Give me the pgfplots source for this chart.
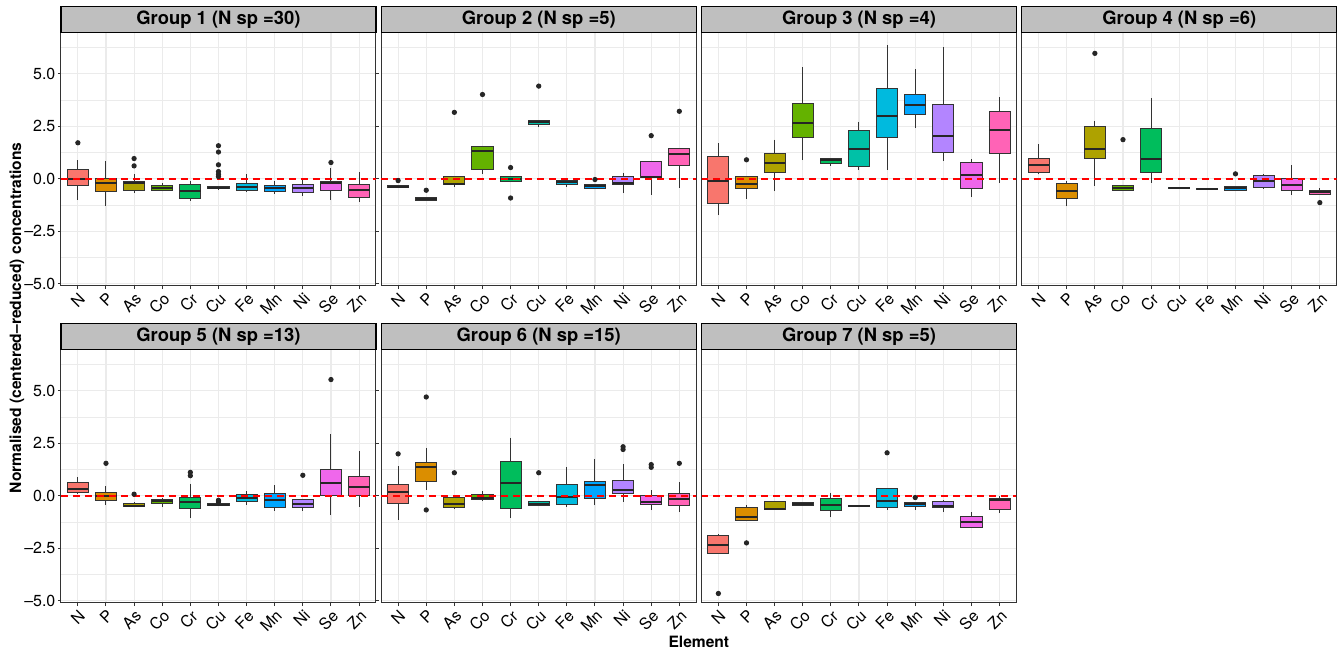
\documentclass[border=0pt]{standalone}
\usepackage{pgfplots}
\pgfplotsset{compat=1.18}
\usepgfplotslibrary{groupplots,statistics}
\usetikzlibrary{calc}
\usepackage{fontspec}
\setmainfont{TeX Gyre Heros}

% ggplot hue palette, 11 levels
\definecolor{cN}{HTML}{F8766D}
\definecolor{cP}{HTML}{DB8E00}
\definecolor{cAs}{HTML}{AEA200}
\definecolor{cCo}{HTML}{64B200}
\definecolor{cCr}{HTML}{00BD5C}
\definecolor{cCu}{HTML}{00C1A7}
\definecolor{cFe}{HTML}{00BADE}
\definecolor{cMn}{HTML}{00A6FF}
\definecolor{cNi}{HTML}{B385FF}
\definecolor{cSe}{HTML}{EF67EB}
\definecolor{cZn}{HTML}{FF63B6}

\pgfplotsset{
  bxs/.style={
    draw=black!80, line width=0.5pt,
    mark=*, mark size=1.05pt, mark options={draw=black!85, fill=black!85},
    boxplot/draw direction=y,
    boxplot/box extend=0.75,
    boxplot/whisker extend=0,
    boxplot/every median/.style={line width=1pt, draw=black!85},
  },
}
% \bx{pos}{fill}{lower whisker}{q1}{median}{q3}{upper whisker}{outliers}
\newcommand{\bx}[8]{%
  \addplot[bxs, fill=#2, boxplot prepared={draw position=#1,
    lower whisker=#3, lower quartile=#4, median=#5,
    upper quartile=#6, upper whisker=#7}] coordinates {#8};}
\newcommand{\zeroline}{%
  \addplot[red, line width=1pt, dash pattern=on 3.5pt off 2.5pt] coordinates {(0.4,0) (11.6,0)};}

\begin{document}
\begin{tikzpicture}
\begin{groupplot}[
  group style={group size=4 by 2, horizontal sep=2.65pt, vertical sep=32pt},
  scale only axis, width=157.5pt, height=126.5pt,
  xmin=0.4, xmax=11.6, ymin=-5.1, ymax=6.95,
  xtick={1,...,11}, xticklabels={N,P,As,Co,Cr,Cu,Fe,Mn,Ni,Se,Zn},
  ytick={-5,-2.5,0,2.5,5}, yticklabels={--5.0,--2.5,0.0,2.5,5.0},
  minor ytick={-3.75,-1.25,1.25,3.75,6.25},
  xmajorgrids, ymajorgrids, yminorgrids,
  major grid style={color=black!8, line width=0.55pt},
  minor grid style={color=black!8, line width=0.3pt},
  tick align=outside, major tick length=1.6pt, minor tick length=0pt,
  tick style={black!80, line width=0.5pt},
  axis line style={black!80, line width=0.5pt},
  ticklabel style={font=\fontsize{8}{9}\selectfont, black},
  xticklabel style={rotate=45, anchor=north east, inner sep=0.8pt},
  yticklabel style={inner sep=1pt},
  every axis title/.style={at={(0.5,1)}, anchor=south, draw=black, line width=0.6pt,
    fill=black!25, minimum width=157.5pt, minimum height=13pt, inner sep=0pt,
    font=\bfseries\fontsize{9.2}{11}\selectfont},
]
\nextgroupplot[title={Group 1 (N sp =30)}]
\bx{1}{cN}{-1.0}{-0.33}{0.0}{0.43}{0.88}{(0,1.72)}
\bx{2}{cP}{-1.28}{-0.6}{-0.2}{0.0}{0.85}{}
\bx{3}{cAs}{-0.68}{-0.57}{-0.21}{-0.13}{0.24}{(0,0.97) (0,0.62)}
\bx{4}{cCo}{-0.6}{-0.53}{-0.43}{-0.33}{-0.2}{}
\bx{5}{cCr}{-1.05}{-0.91}{-0.6}{-0.29}{-0.08}{}
\bx{6}{cCu}{-0.5}{-0.48}{-0.42}{-0.38}{-0.33}{(0,1.58) (0,1.28) (0,0.67) (0,0.35) (0,0.22) (0,0.11)}
\bx{7}{cFe}{-0.64}{-0.56}{-0.4}{-0.2}{0.21}{}
\bx{8}{cMn}{-0.72}{-0.6}{-0.45}{-0.33}{-0.08}{}
\bx{9}{cNi}{-0.83}{-0.65}{-0.45}{-0.27}{-0.03}{}
\bx{10}{cSe}{-1.0}{-0.57}{-0.21}{-0.1}{0.51}{(0,0.78)}
\bx{11}{cZn}{-1.12}{-0.88}{-0.51}{-0.29}{0.33}{}
\zeroline

\nextgroupplot[title={Group 2 (N sp =5)}, yticklabels={}, ytick style={draw=none}]
\bx{1}{cN}{-0.42}{-0.40}{-0.37}{-0.33}{-0.33}{(0,-0.08)}
\bx{2}{cP}{-1.04}{-1.04}{-0.97}{-0.88}{-0.88}{(0,-0.54)}
\bx{3}{cAs}{-0.37}{-0.29}{-0.22}{0.11}{0.11}{(0,3.17)}
\bx{4}{cCo}{0.24}{0.43}{1.34}{1.52}{1.52}{(0,4.02)}
\bx{5}{cCr}{-0.11}{-0.11}{0.0}{0.11}{0.11}{(0,0.54) (0,-0.91)}
\bx{6}{cCu}{2.47}{2.58}{2.7}{2.78}{2.78}{(0,4.42)}
\bx{7}{cFe}{-0.37}{-0.27}{-0.16}{-0.08}{-0.08}{}
\bx{8}{cMn}{-0.46}{-0.46}{-0.35}{-0.29}{-0.29}{(0,-0.03)}
\bx{9}{cNi}{-0.69}{-0.26}{-0.18}{0.13}{0.3}{}
\bx{10}{cSe}{-0.75}{0.08}{0.11}{0.85}{0.85}{(0,2.06)}
\bx{11}{cZn}{-0.43}{0.65}{1.2}{1.45}{1.45}{(0,3.22)}
\zeroline

\nextgroupplot[title={Group 3 (N sp =4)}, yticklabels={}, ytick style={draw=none}]
\bx{1}{cN}{-1.74}{-1.15}{-0.08}{1.05}{1.69}{}
\bx{2}{cP}{-0.96}{-0.48}{-0.22}{0.1}{0.1}{(0,0.91)}
\bx{3}{cAs}{-0.59}{0.29}{0.78}{1.2}{1.87}{}
\bx{4}{cCo}{0.89}{1.96}{2.68}{3.59}{5.31}{}
\bx{5}{cCr}{0.62}{0.72}{0.88}{0.97}{0.97}{}
\bx{6}{cCu}{0.43}{0.59}{1.42}{2.31}{2.73}{}
\bx{7}{cFe}{0.43}{1.96}{3.01}{4.31}{6.36}{}
\bx{8}{cMn}{2.42}{3.09}{3.52}{4.04}{5.22}{}
\bx{9}{cNi}{0.85}{1.26}{2.04}{3.54}{6.28}{}
\bx{10}{cSe}{-0.86}{-0.48}{0.19}{0.77}{0.94}{}
\bx{11}{cZn}{-0.19}{1.2}{2.31}{3.21}{3.91}{}
\zeroline

\nextgroupplot[title={Group 4 (N sp =6)}, yticklabels={}, ytick style={draw=none}]
\bx{1}{cN}{0.21}{0.32}{0.65}{0.99}{1.64}{}
\bx{2}{cP}{-1.31}{-0.91}{-0.57}{-0.22}{-0.11}{}
\bx{3}{cAs}{-0.35}{0.97}{1.44}{2.5}{2.78}{(0,5.98)}
\bx{4}{cCo}{-0.53}{-0.53}{-0.45}{-0.33}{-0.33}{(0,1.87)}
\bx{5}{cCr}{-0.19}{0.3}{0.94}{2.38}{3.83}{}
\bx{6}{cCu}{-0.45}{-0.45}{-0.43}{-0.41}{-0.41}{}
\bx{7}{cFe}{-0.51}{-0.51}{-0.49}{-0.47}{-0.47}{}
\bx{8}{cMn}{-0.53}{-0.53}{-0.45}{-0.37}{-0.37}{(0,0.24)}
\bx{9}{cNi}{-0.49}{-0.43}{-0.08}{0.16}{0.24}{}
\bx{10}{cSe}{-0.77}{-0.57}{-0.27}{0.0}{0.64}{}
\bx{11}{cZn}{-0.73}{-0.73}{-0.62}{-0.53}{-0.43}{(0,-1.13)}
\zeroline

\nextgroupplot[title={Group 5 (N sp =13)}]
\bx{1}{cN}{0.11}{0.18}{0.35}{0.66}{0.91}{}
\bx{2}{cP}{-0.42}{-0.22}{0.0}{0.18}{0.45}{(0,1.55)}
\bx{3}{cAs}{-0.53}{-0.53}{-0.46}{-0.38}{-0.29}{(0,0.08)}
\bx{4}{cCo}{-0.54}{-0.35}{-0.26}{-0.18}{-0.08}{}
\bx{5}{cCr}{-1.06}{-0.58}{-0.27}{-0.06}{0.58}{(0,1.12) (0,0.96)}
\bx{6}{cCu}{-0.45}{-0.45}{-0.42}{-0.37}{-0.37}{(0,-0.21) (0,-0.29)}
\bx{7}{cFe}{-0.42}{-0.29}{-0.1}{0.08}{0.22}{}
\bx{8}{cMn}{-0.71}{-0.54}{-0.22}{0.11}{0.51}{}
\bx{9}{cNi}{-0.72}{-0.54}{-0.37}{-0.16}{-0.13}{(0,0.98)}
\bx{10}{cSe}{-0.93}{0.0}{0.61}{1.27}{2.95}{(0,5.54)}
\bx{11}{cZn}{-0.51}{0.0}{0.4}{0.9}{2.15}{}
\zeroline

\nextgroupplot[title={Group 6 (N sp =15)}, yticklabels={}, ytick style={draw=none}]
\bx{1}{cN}{-1.15}{-0.35}{0.19}{0.54}{1.43}{(0,2.0)}
\bx{2}{cP}{0.3}{0.67}{1.39}{1.6}{2.28}{(0,4.71) (0,-0.67)}
\bx{3}{cAs}{-0.64}{-0.54}{-0.38}{-0.1}{0.03}{(0,1.1)}
\bx{4}{cCo}{-0.26}{-0.19}{-0.08}{0.06}{0.21}{}
\bx{5}{cCr}{-1.06}{-0.59}{0.59}{1.62}{2.77}{}
\bx{6}{cCu}{-0.46}{-0.46}{-0.4}{-0.29}{-0.26}{(0,1.1)}
\bx{7}{cFe}{-0.53}{-0.4}{-0.05}{0.53}{1.38}{}
\bx{8}{cMn}{-0.45}{-0.11}{0.51}{0.69}{1.76}{}
\bx{9}{cNi}{-0.27}{0.11}{0.3}{0.72}{1.52}{(0,2.34) (0,2.21)}
\bx{10}{cSe}{-0.69}{-0.43}{-0.27}{0.0}{0.27}{(0,1.49) (0,1.36)}
\bx{11}{cZn}{-0.79}{-0.46}{-0.13}{0.13}{0.64}{(0,1.55)}
\zeroline

\nextgroupplot[title={Group 7 (N sp =5)}, yticklabels={}, ytick style={draw=none}]
\bx{1}{cN}{-2.74}{-2.74}{-2.34}{-1.91}{-1.81}{(0,-4.65)}
\bx{2}{cP}{-1.15}{-1.15}{-0.99}{-0.56}{-0.43}{(0,-2.24)}
\bx{3}{cAs}{-0.66}{-0.66}{-0.61}{-0.26}{-0.26}{}
\bx{4}{cCo}{-0.46}{-0.46}{-0.4}{-0.34}{-0.34}{}
\bx{5}{cCr}{-1.03}{-0.72}{-0.45}{-0.11}{0.16}{}
\bx{6}{cCu}{-0.5}{-0.5}{-0.48}{-0.46}{-0.46}{}
\bx{7}{cFe}{-0.66}{-0.54}{-0.24}{0.37}{0.37}{(0,2.05)}
\bx{8}{cMn}{-0.66}{-0.53}{-0.4}{-0.34}{-0.34}{(0,-0.08)}
\bx{9}{cNi}{-0.79}{-0.56}{-0.48}{-0.27}{-0.21}{}
\bx{10}{cSe}{-1.52}{-1.52}{-1.25}{-0.98}{-0.77}{}
\bx{11}{cZn}{-0.8}{-0.64}{-0.21}{-0.14}{-0.03}{}
\zeroline
\end{groupplot}

\coordinate (tl) at ($(group c1r1.north west)+(-30.5pt,16.5pt)$);
\coordinate (bl) at (group c1r2.south west);
\coordinate (br) at (group c4r1.north east |- bl);
\node[rotate=90, font=\bfseries\fontsize{7.8}{9}\selectfont]
  at ($(group c1r1.north west)!0.5!(bl)+(-22pt,0)$) {Normalised (centered--reduced) concentrations};
\node[font=\bfseries\fontsize{7.8}{9}\selectfont]
  at ($(bl)!0.5!(br)+(0,-19.5pt)$) {Element};
\pgfresetboundingbox
\path[use as bounding box] (tl) rectangle ($(br)+(1.15pt,-24pt)$);
\end{tikzpicture}
\end{document}
